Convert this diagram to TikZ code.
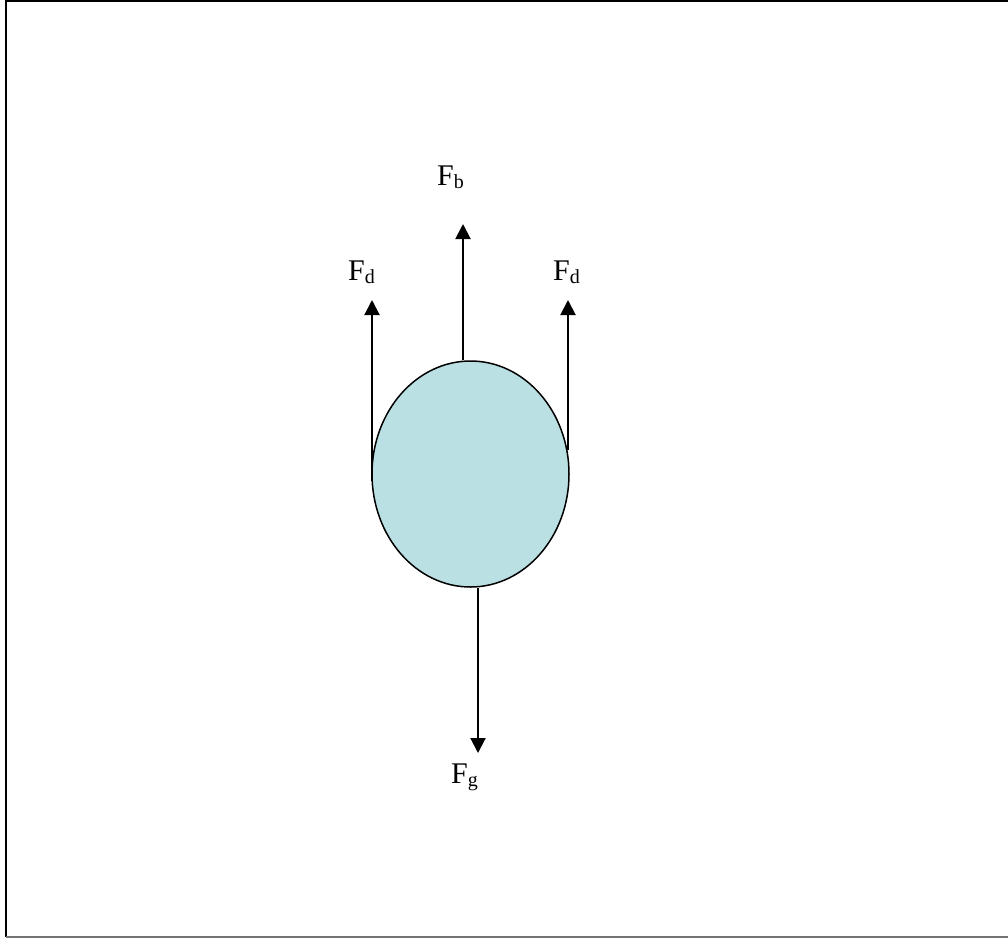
\documentclass[tikz,border=0pt]{standalone}
\usepackage{fontspec}
\setmainfont{Liberation Serif}
\usepackage{tikz}
\usetikzlibrary{shapes.geometric, arrows.meta, positioning}
\definecolor{dropblue}{HTML}{BBE0E3}
\tikzstyle{drop}  = [ellipse, draw=black, line width=1.5pt, fill=dropblue,
    minimum width=197pt, minimum height=226pt, inner sep=0pt]
\tikzstyle{force} = [line width=2pt, -{Triangle[length=15pt, width=15pt]}]
\tikzstyle{lbl}   = [anchor=base west, inner sep=0pt, font=\fontsize{30}{30}\selectfont]
\newcommand{\fsub}[1]{F\raisebox{-3.5pt}{\fontsize{20}{20}\selectfont #1}}

\begin{document}
\begin{tikzpicture}[x=1pt, y=-1pt]
    \useasboundingbox (0,0) rectangle (1008,938);
    \draw [line width=2pt] (1008,1) -| (5.5,937);
    \draw [line width=1.5pt, black!55] (5.5,937) -- (1008,937);

    \node (body) [drop] at (470.5,474) {};

    \coordinate (fbtip)   at (463,224);
    \coordinate (fdltip)  at (372,300);
    \coordinate (fdlfoot) at (372,481);
    \coordinate (fdrtip)  at (568,300);
    \coordinate (fdrfoot) at (568,450);
    \coordinate (fgtip)   at (478,753);

    \node (fb)  [lbl] at (437,185) {\fsub{b}};
    \node (fdl) [lbl] at (348,280) {\fsub{d}};
    \node (fdr) [lbl] at (553,280) {\fsub{d}};
    \node (fg)  [lbl] at (451,783) {\fsub{g}};

    \draw [force] (body.north -| fbtip) -- (fbtip);
    \draw [force] (fdlfoot) -- (fdltip);
    \draw [force] (fdrfoot) -- (fdrtip);
    \draw [force] (body.south -| fgtip) -- (fgtip);
\end{tikzpicture}
\end{document}
